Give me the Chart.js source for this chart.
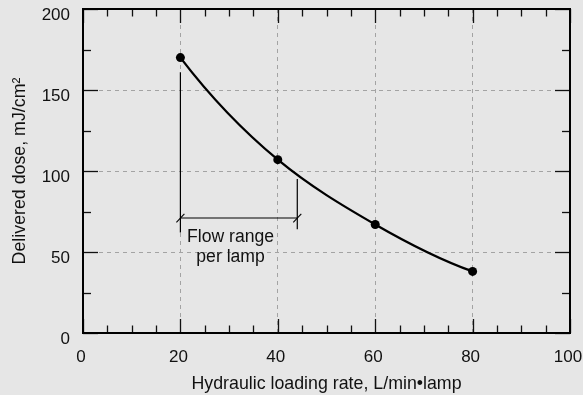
<!DOCTYPE html>
<html><head><meta charset="utf-8">
<script src="https://cdn.jsdelivr.net/npm/chart.js@4/dist/chart.umd.min.js"></script>
<style>html,body{margin:0;padding:0;background:#e6e6e6;overflow:hidden}#wrap{width:583px;height:395px}</style>
</head><body><div id="wrap"><canvas id="c" width="583" height="395"></canvas></div>
<script>
// ---- data ----
const loadingRates = [20, 40, 60, 80];
const deliveredDose = [170, 107, 67, 38];
const xTickValues = [0, 20, 40, 60, 80, 100];
const yTickValues = [0, 50, 100, 150, 200];
const flowRangeX = [20, 44];
const flowRangeY = 71;
const leftMarkerY = [161, 62];
const rightMarkerY = [95, 64];
const flowLabelLines = ['Flow range', 'per lamp'];
const flowLabelX = 30.3;
const flowLabelBaselines = [56.4, 44.1];

const FONT = '"Liberation Sans", Arial, Helvetica, sans-serif';
Chart.defaults.font.family = FONT;
Chart.defaults.font.size = 17;
Chart.defaults.color = '#111';

function gridColor(edgeVals) {
  return c => (c.tick && edgeVals.includes(c.tick.value)) ? 'rgba(0,0,0,0)' : '#a3a3a3';
}

const curvePlugin = {
  id: 'curveShape',
  beforeDatasetDraw(chart, args) {
    if (args.index !== 0) return;
    const line = args.meta.dataset;
    if (line && typeof line.updateControlPoints === 'function') {
      line.updateControlPoints(chart.chartArea, 'x');
    }
    const xs = chart.scales.x, ys = chart.scales.y;
    const pts = args.meta.data;
    const n = loadingRates.length;
    for (let i = 0; i < n; i++) {
      let k;
      if (i === 0) k = Math.log(deliveredDose[1] / deliveredDose[0]) / (loadingRates[1] - loadingRates[0]);
      else if (i === n - 1) k = Math.log(deliveredDose[n - 1] / deliveredDose[n - 2]) / (loadingRates[n - 1] - loadingRates[n - 2]);
      else k = Math.log(deliveredDose[i + 1] / deliveredDose[i - 1]) / (loadingRates[i + 1] - loadingRates[i - 1]);
      const m = deliveredDose[i] * k;
      if (i > 0) {
        const d = (loadingRates[i] - loadingRates[i - 1]) / 3;
        pts[i].cp1x = xs.getPixelForValue(loadingRates[i] - d);
        pts[i].cp1y = ys.getPixelForValue(deliveredDose[i] - m * d);
      }
      if (i < n - 1) {
        const d = (loadingRates[i + 1] - loadingRates[i]) / 3;
        pts[i].cp2x = xs.getPixelForValue(loadingRates[i] + d);
        pts[i].cp2y = ys.getPixelForValue(deliveredDose[i] + m * d);
      }
    }
    if (line) line._path = undefined;
  }
};

const annotPlugin = {
  id: 'annot',
  afterDatasetsDraw(chart) {
    const {ctx} = chart;
    const xs = chart.scales.x, ys = chart.scales.y;
    ctx.save();
    ctx.strokeStyle = '#000';
    ctx.lineWidth = 1.1;
    const py = ys.getPixelForValue(flowRangeY);
    flowRangeX.forEach(v => {
      const px = xs.getPixelForValue(v);
      ctx.beginPath();
      ctx.moveTo(px - 4, py + 4.5);
      ctx.lineTo(px + 4, py - 4);
      ctx.stroke();
    });
    ctx.fillStyle = '#111';
    ctx.font = '17.6px ' + FONT;
    ctx.textAlign = 'center';
    ctx.textBaseline = 'alphabetic';
    flowLabelLines.forEach((t, i) => {
      ctx.fillText(t, xs.getPixelForValue(flowLabelX), ys.getPixelForValue(flowLabelBaselines[i]));
    });
    ctx.restore();
  },
  afterDraw(chart) {
    const {ctx, chartArea: {left, right, top, bottom}} = chart;
    const xs = chart.scales.x, ys = chart.scales.y;
    ctx.save();
    ctx.strokeStyle = '#111';
    ctx.lineWidth = 1.3;
    const seg = (a, b, c, d) => { ctx.beginPath(); ctx.moveTo(a, b); ctx.lineTo(c, d); ctx.stroke(); };
    const xMax = xTickValues[xTickValues.length - 1];
    for (let v = xTickValues[0]; v <= xMax; v += 5) {
      const px = Math.round(xs.getPixelForValue(v)) + 0.5;
      const len = v % 20 === 0 ? 14 : 7.5;
      seg(px, bottom, px, bottom - len);
      seg(px, top, px, top + len);
    }
    const yMax = yTickValues[yTickValues.length - 1];
    for (let v = yTickValues[0]; v <= yMax; v += 25) {
      const py = Math.round(ys.getPixelForValue(v)) + 0.5;
      const len = v % 50 === 0 ? 15 : 8;
      seg(left, py, left + len, py);
      seg(right, py, right - len, py);
    }
    ctx.lineWidth = 2;
    ctx.strokeStyle = '#000';
    ctx.strokeRect(left, top, right - left, bottom - top);
    ctx.restore();
  }
};

const thin = {borderColor: '#000', borderWidth: 1.2, pointRadius: 0, pointHoverRadius: 0, tension: 0, fill: false};

new Chart(document.getElementById('c'), {
  type: 'line',
  data: {
    datasets: [
      {
        data: loadingRates.map((x, i) => ({x, y: deliveredDose[i]})),
        borderColor: '#000', borderWidth: 2.3, tension: 0.4, fill: false,
        pointRadius: 4.5, pointHoverRadius: 4.5, pointBackgroundColor: '#000', pointBorderWidth: 0
      },
      Object.assign({data: leftMarkerY.map(y => ({x: flowRangeX[0], y}))}, thin),
      Object.assign({data: rightMarkerY.map(y => ({x: flowRangeX[1], y}))}, thin),
      Object.assign({data: flowRangeX.map(x => ({x, y: flowRangeY}))}, thin)
    ]
  },
  options: {
    responsive: false,
    animation: false,
    events: [],
    layout: {padding: {left: 5, right: 13, top: 9, bottom: 0}},
    plugins: {legend: {display: false}, tooltip: {enabled: false}},
    scales: {
      x: {
        type: 'linear', min: 0, max: 100,
        afterBuildTicks: s => { s.ticks = xTickValues.map(v => ({value: v})); },
        afterFit: s => { s.height = 62; s.paddingLeft = 0; s.paddingRight = 0; },
        ticks: {padding: 14, labelOffset: -2, font: {size: 17}, color: '#111', maxRotation: 0, autoSkip: false},
        grid: {color: gridColor([0, 100]), lineWidth: 1, drawTicks: false},
        border: {display: false, dash: [4, 4]},
        title: {display: true, text: 'Hydraulic loading rate, L/min•lamp', font: {size: 17.8}, color: '#111', padding: {top: 0, bottom: 0}}
      },
      y: {
        type: 'linear', min: 0, max: 200,
        afterBuildTicks: s => { s.ticks = yTickValues.map(v => ({value: v})); },
        afterFit: s => { s.width = 78; s.paddingTop = 0; s.paddingBottom = 0; },
        ticks: {padding: 13, labelOffset: 6, font: {size: 17}, color: '#111', autoSkip: false},
        grid: {color: gridColor([0, 200]), lineWidth: 1, drawTicks: false},
        border: {display: false, dash: [4, 4]},
        title: {display: true, text: 'Delivered dose, mJ/cm²', font: {size: 17.8}, color: '#111', padding: {top: 4, bottom: 0}}
      }
    }
  },
  plugins: [curvePlugin, annotPlugin]
});
</script>
</body></html>
